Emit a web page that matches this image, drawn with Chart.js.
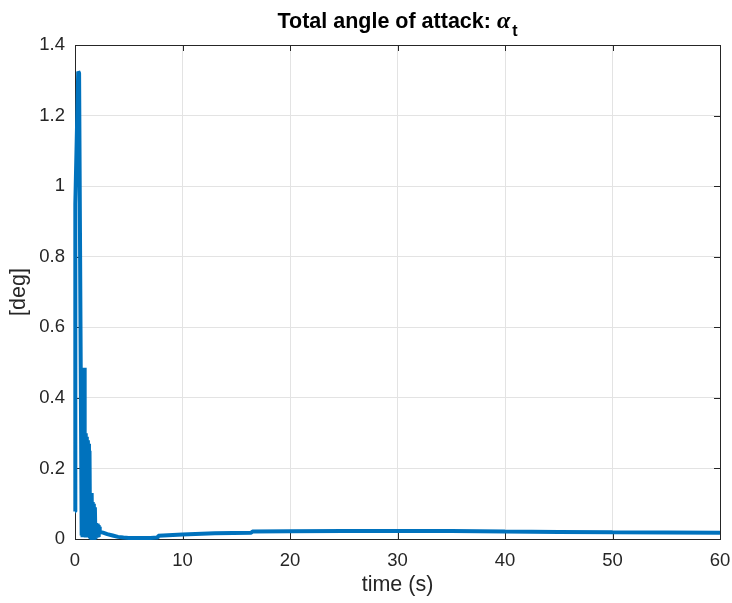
<!DOCTYPE html>
<html>
<head>
<meta charset="utf-8">
<script src="https://cdn.jsdelivr.net/npm/chart.js@4.4.0/dist/chart.umd.min.js"></script>
<style>
  html, body { margin: 0; padding: 0; background: #ffffff; }
  #wrap { width: 732px; height: 603px; }
</style>
</head>
<body>
<div id="wrap"><canvas id="c" width="732" height="603"></canvas></div>
<script>
// ---- data ----
const titleMain = 'Total angle of attack: ';
const titleSymbol = 'α';
const titleSub = 't';
const xAxisLabel = 'time (s)';
const yAxisLabel = '[deg]';

const xTickValues = [0, 10, 20, 30, 40, 50, 60];
const xTickLabels = ['0', '10', '20', '30', '40', '50', '60'];
const yTickValues = [0, 0.2, 0.4, 0.6, 0.8, 1, 1.2, 1.4];
const yTickLabels = ['0', '0.2', '0.4', '0.6', '0.8', '1', '1.2', '1.4'];

const timeS = [
  0, 0.03, 0.3, 0.38, 0.62,
  0.66, 0.7, 0.75, 0.8, 0.85, 0.9, 0.95, 1.0, 1.05, 1.1, 1.15, 1.2, 1.25, 1.3, 1.35, 1.4,
  1.45, 1.5, 1.55, 1.6, 1.65, 1.7, 1.75, 1.8, 1.85, 1.9, 1.95, 2.0, 2.05, 2.1, 2.15, 2.2, 2.25,
  2.3, 2.6, 3.0, 3.5, 4.0, 4.5, 5.0, 6.0, 7.0, 7.7, 7.75,
  10, 13, 16.4, 16.5, 20, 25, 30, 35, 40, 45, 50, 55, 60
];
const alphaDeg = [
  0.078, 0.95, 1.325, 1.32, 0.01,
  0.47, 0.005, 0.48, 0.005, 0.485, 0.005, 0.30, 0.004, 0.29, 0.004, 0.28, 0.004, 0.27, 0.004, 0.25, 0.003,
  0.13, 0.003, 0.13, 0.003, 0.105, 0.003, 0.10, 0.003, 0.09, 0.003, 0.045, 0.004, 0.044, 0.004, 0.04, 0.006, 0.035,
  0.02, 0.018, 0.014, 0.01, 0.006, 0.004, 0.003, 0.003, 0.003, 0.004, 0.009,
  0.013, 0.016, 0.018, 0.021, 0.022, 0.023, 0.023, 0.0225, 0.021, 0.02, 0.019, 0.0185, 0.018
];

const points = timeS.map((t, i) => ({ x: t, y: alphaDeg[i] }));

const axisColor = '#262626';
const gridColor = '#e3e3e3';
const fontFamily = '"Liberation Sans", Arial, Helvetica, sans-serif';

const matlabAxes = {
  id: 'matlabAxes',
  beforeDatasetsDraw(chart) {
    const { ctx, chartArea: a, scales } = chart;
    ctx.save();
    ctx.strokeStyle = axisColor;
    ctx.lineWidth = 1;
    ctx.strokeRect(Math.round(a.left) + 0.5, Math.round(a.top) + 0.5,
                   Math.round(a.right - a.left), Math.round(a.bottom - a.top));
    const tl = 6;
    ctx.beginPath();
    xTickValues.forEach(v => {
      const px = Math.round(scales.x.getPixelForValue(v)) + 0.5;
      ctx.moveTo(px, a.bottom); ctx.lineTo(px, a.bottom - tl);
      ctx.moveTo(px, a.top); ctx.lineTo(px, a.top + tl);
    });
    yTickValues.forEach(v => {
      const py = Math.round(scales.y.getPixelForValue(v)) + 0.5;
      ctx.moveTo(a.left, py); ctx.lineTo(a.left + tl, py);
      ctx.moveTo(a.right, py); ctx.lineTo(a.right - tl, py);
    });
    ctx.stroke();
    ctx.restore();
  },
  afterDraw(chart) {
    const { ctx, chartArea: a } = chart;
    ctx.save();
    ctx.fillStyle = '#000000';
    ctx.textBaseline = 'alphabetic';
    const mainFont = 'bold 21.5px ' + fontFamily;
    const symFont = 'italic bold 24px "Liberation Serif", "DejaVu Serif", serif';
    const subFont = 'bold 16px ' + fontFamily;
    ctx.font = mainFont; const w1 = ctx.measureText(titleMain).width;
    ctx.font = symFont; const w2 = ctx.measureText(titleSymbol).width;
    ctx.font = subFont; const w3 = ctx.measureText(titleSub).width;
    const total = w1 + w2 + 2 + w3;
    let x = (a.left + a.right) / 2 - total / 2;
    const base = 28;
    ctx.textAlign = 'left';
    ctx.font = mainFont; ctx.fillText(titleMain, x, base); x += w1;
    ctx.font = symFont; ctx.fillText(titleSymbol, x, base); x += w2 + 2;
    ctx.font = subFont; ctx.fillText(titleSub, x, base + 8);
    ctx.restore();
  }
};

new Chart(document.getElementById('c'), {
  type: 'line',
  data: {
    datasets: [{
      data: points,
      borderColor: '#0072BD',
      backgroundColor: '#0072BD',
      borderWidth: 4,
      borderJoinStyle: 'bevel',
      pointRadius: 0,
      tension: 0,
      fill: false,
      clip: 3
    }]
  },
  options: {
    responsive: false,
    animation: false,
    devicePixelRatio: 1,
    layout: { padding: { top: 45, right: 12, left: 0, bottom: 0 } },
    plugins: { legend: { display: false }, tooltip: { enabled: false }, title: { display: false } },
    scales: {
      x: {
        type: 'linear', min: 0, max: 60,
        afterFit(s) { s.height = 64; s.paddingLeft = 0; s.paddingRight = 0; },
        afterBuildTicks(s) { s.ticks = xTickValues.map(v => ({ value: v })); },
        ticks: {
          color: axisColor, padding: 11, maxRotation: 0,
          font: { family: fontFamily, size: 18.5 },
          callback: (v, i) => xTickLabels[i]
        },
        grid: { color: gridColor, drawTicks: false, lineWidth: 1 },
        border: { display: false },
        title: {
          display: true, text: xAxisLabel, color: axisColor,
          font: { family: fontFamily, size: 21.5 }, padding: { top: 0, bottom: 5 }
        }
      },
      y: {
        type: 'linear', min: 0, max: 1.4,
        afterFit(s) { s.width = 75; s.paddingTop = 0; s.paddingBottom = 0; },
        afterBuildTicks(s) { s.ticks = yTickValues.map(v => ({ value: v })); },
        ticks: {
          color: axisColor, padding: 10,
          font: { family: fontFamily, size: 18.5 },
          callback: (v, i) => yTickLabels[i]
        },
        grid: { color: gridColor, drawTicks: false, lineWidth: 1 },
        border: { display: false },
        title: {
          display: true, text: yAxisLabel, color: axisColor,
          font: { family: fontFamily, size: 21.5 }, padding: { top: 6, bottom: 0 }
        }
      }
    }
  },
  plugins: [matlabAxes]
});
</script>
</body>
</html>
